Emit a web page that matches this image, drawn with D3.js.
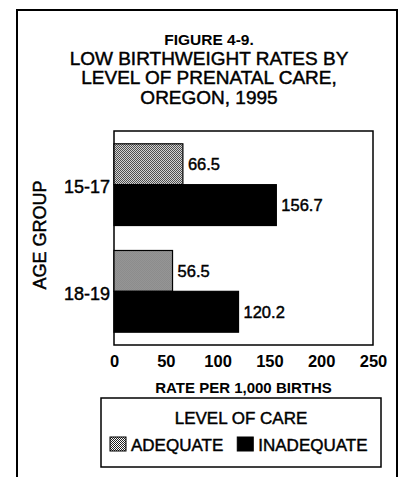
<!DOCTYPE html>
<html>
<head>
<meta charset="utf-8">
<script src="https://cdn.jsdelivr.net/npm/d3@7"></script>
<style>
  html, body { margin: 0; padding: 0; background: #fff; }
  svg { display: block; }
  text { font-family: "Liberation Sans", Arial, Helvetica, sans-serif; fill: #000; }
  .heavy { stroke: #000; stroke-width: 0.45px; }
</style>
</head>
<body>
<svg width="406" height="477"></svg>
<script>
// data
const ageGroups = ["15-17", "18-19"];
const careLevels = ["ADEQUATE", "INADEQUATE"];
const adequate = [66.5, 56.5];
const inadequate = [156.7, 120.2];
const xTicks = [0, 50, 100, 150, 200, 250];
const titleLines = ["LOW BIRTHWEIGHT RATES BY", "LEVEL OF PRENATAL CARE,", "OREGON, 1995"];

const svg = d3.select("svg");

/* pattern for adequate bars (dither) */
const defs = svg.append("defs");
const pat = defs.append("pattern")
  .attr("id", "dots")
  .attr("width", 2).attr("height", 2)
  .attr("patternUnits", "userSpaceOnUse");
pat.append("rect").attr("width", 2).attr("height", 2).attr("fill", "#fff");
pat.append("rect").attr("width", 1).attr("height", 1).attr("fill", "#222");
pat.append("rect").attr("x", 1).attr("y", 1).attr("width", 1).attr("height", 1).attr("fill", "#222");

const fills = { ADEQUATE: "url(#dots)", INADEQUATE: "#000" };

/* outer frame */
svg.append("rect")
  .attr("x", 17).attr("y", 10)
  .attr("width", 380).attr("height", 480)
  .attr("fill", "none")
  .attr("stroke", "#000")
  .attr("stroke-width", 2);

/* titles */
svg.append("text")
  .attr("x", 209).attr("y", 45)
  .attr("text-anchor", "middle")
  .style("font-size", "15.5px")
  .style("font-weight", "bold")
  .text("FIGURE 4-9.");

svg.selectAll(".title")
  .data(titleLines)
  .enter()
  .append("text")
  .attr("class", "heavy")
  .attr("x", 209)
  .attr("y", (d, i) => 65 + i * 19.3)
  .attr("text-anchor", "middle")
  .style("font-size", "19px")
  .text(d => d);

/* scales */
const plot = { left: 114, right: 373, top: 131, bottom: 345 };

const x = d3.scaleLinear()
  .domain([0, 250])
  .range([plot.left, plot.right]);

const y = d3.scaleBand()
  .domain(ageGroups)
  .range([plot.top, plot.bottom])
  .paddingInner(0.234)
  .paddingOuter(0.12);

const ySub = d3.scaleBand()
  .domain(careLevels)
  .range([0, y.bandwidth()]);

/* plot box */
svg.append("rect")
  .attr("x", plot.left).attr("y", plot.top)
  .attr("width", plot.right - plot.left)
  .attr("height", plot.bottom - plot.top)
  .attr("fill", "none")
  .attr("stroke", "#000")
  .attr("stroke-width", 1.5);

/* bars */
const rows = ageGroups.map((g, i) => ({
  group: g,
  values: [
    { level: "ADEQUATE", value: adequate[i] },
    { level: "INADEQUATE", value: inadequate[i] }
  ]
}));

const groups = svg.selectAll(".grp")
  .data(rows)
  .enter()
  .append("g")
  .attr("transform", d => `translate(0,${y(d.group)})`);

groups.selectAll("rect")
  .data(d => d.values)
  .enter()
  .append("rect")
  .attr("x", x(0))
  .attr("y", d => ySub(d.level))
  .attr("width", d => x(d.value) - x(0))
  .attr("height", ySub.bandwidth())
  .attr("fill", d => fills[d.level])
  .attr("stroke", "#000")
  .attr("stroke-width", 1.2);

groups.selectAll(".val")
  .data(d => d.values)
  .enter()
  .append("text")
  .attr("class", "heavy")
  .attr("x", d => x(d.value) + 5)
  .attr("y", d => ySub(d.level) + ySub.bandwidth() / 2)
  .attr("dy", "0.36em")
  .style("font-size", "16.5px")
  .text(d => d.value.toFixed(1));

/* x axis */
const xAxis = svg.append("g")
  .attr("transform", `translate(0,${plot.bottom})`)
  .call(d3.axisBottom(x).tickValues(xTicks).tickSize(0).tickPadding(10));
xAxis.select(".domain").remove();
xAxis.selectAll("text")
  .style("font-size", "16.5px")
  .style("font-weight", "bold")
  .style("font-family", "'Liberation Sans', Arial, sans-serif");

svg.append("text")
  .attr("x", (plot.left + plot.right) / 2)
  .attr("y", 393)
  .attr("text-anchor", "middle")
  .style("font-size", "15px")
  .style("font-weight", "bold")
  .text("RATE PER 1,000 BIRTHS");

/* y axis */
const yAxis = svg.append("g")
  .attr("transform", `translate(${plot.left},0)`)
  .call(d3.axisLeft(y).tickSize(0).tickPadding(4));
yAxis.select(".domain").remove();
yAxis.selectAll("text")
  .attr("class", "heavy")
  .attr("dy", "0.48em")
  .style("font-size", "18px")
  .style("font-family", "'Liberation Sans', Arial, sans-serif");

svg.append("text")
  .attr("class", "heavy")
  .attr("transform", `translate(46,${(plot.top + plot.bottom) / 2 - 3}) rotate(-90)`)
  .attr("text-anchor", "middle")
  .style("font-size", "18px")
  .text("AGE GROUP");

/* legend */
const legend = svg.append("g");
legend.append("rect")
  .attr("x", 101).attr("y", 398)
  .attr("width", 280).attr("height", 69)
  .attr("fill", "#fff")
  .attr("stroke", "#000")
  .attr("stroke-width", 1.5);

legend.append("text")
  .attr("class", "heavy")
  .attr("x", 241).attr("y", 424)
  .attr("text-anchor", "middle")
  .style("font-size", "17px")
  .text("LEVEL OF CARE");

let lx = 110;
careLevels.forEach(level => {
  legend.append("rect")
    .attr("x", lx).attr("y", 437)
    .attr("width", 16).attr("height", 14)
    .attr("fill", fills[level])
    .attr("stroke", "#000")
    .attr("stroke-width", 1);
  const t = legend.append("text")
    .attr("class", "heavy")
    .attr("x", lx + 21).attr("y", 451)
    .style("font-size", "17px")
    .text(level);
  lx = lx + 21 + t.node().getComputedTextLength() + 14;
});
</script>
</body>
</html>
